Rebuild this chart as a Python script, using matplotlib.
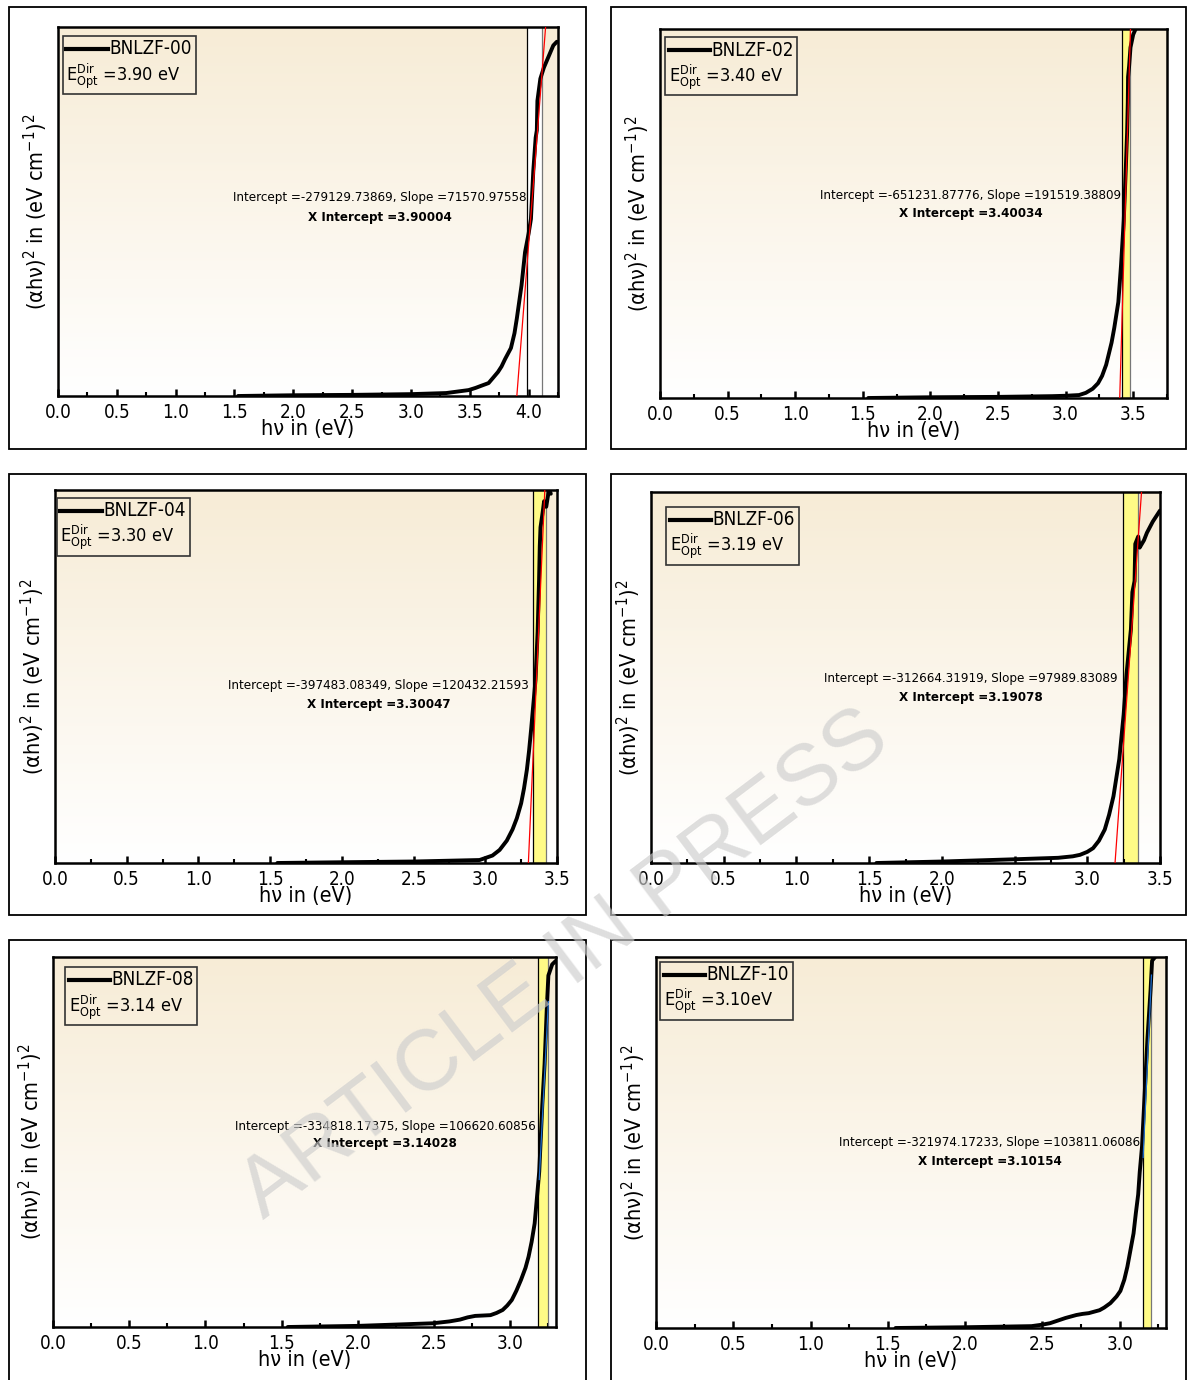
import matplotlib
matplotlib.use('Agg')
from matplotlib import pyplot as plt
from matplotlib.patches import Rectangle
from matplotlib.lines import Line2D
from matplotlib.colors import LinearSegmentedColormap
from matplotlib.offsetbox import AnchoredOffsetbox, DrawingArea, HPacker, VPacker, TextArea
from matplotlib.ticker import MultipleLocator
import numpy as np

plt.rcParams['font.family'] = ['DejaVu Sans']
plt.rcParams['font.stretch'] = 'condensed'
plt.rcParams['mathtext.fontset'] = 'dejavusans'

samples = ['BNLZF-00', 'BNLZF-02', 'BNLZF-04', 'BNLZF-06', 'BNLZF-08', 'BNLZF-10']
gap_labels = ['3.90 eV', '3.40 eV', '3.30 eV', '3.19 eV', '3.14 eV', '3.10eV']
intercepts = [-279129.73869, -651231.87776, -397483.08349, -312664.31919, -334818.17375, -321974.17233]
slopes = [71570.97558, 191519.38809, 120432.21593, 97989.83089, 106620.60856, 103811.06086]

# photon energy (eV) and (alpha h nu)^2 for each sample
e00 = [1.53, 2.0, 2.5, 3.0, 3.3, 3.49, 3.55, 3.60, 3.66, 3.70, 3.74, 3.77, 3.80, 3.85, 3.88,
       3.90, 3.94, 3.97, 4.00, 4.02, 4.04, 4.06, 4.07, 4.075, 4.10, 4.13, 4.17, 4.21, 4.24]
a00 = [0, 35, 53, 88, 140, 280, 385, 490, 613, 875, 1140, 1400, 1750, 2275, 2975,
       3675, 5250, 6825, 7700, 8400, 10675, 12250, 12600, 14000, 15050, 15575, 16100, 16625, 16800]
e02 = [1.54, 2.0, 2.5, 2.9, 3.0, 3.10, 3.15, 3.20, 3.24, 3.27, 3.30, 3.32, 3.34, 3.36, 3.39,
       3.41, 3.43, 3.445, 3.455, 3.46, 3.462, 3.47, 3.48, 3.50, 3.53]
a02 = [0, 30, 46, 76, 92, 122, 214, 381, 610, 915, 1373, 1830, 2288, 2898, 3965,
       5490, 7320, 9455, 10980, 12200, 13268, 13725, 14488, 15021, 15403]
e04 = [1.55, 2.0, 2.5, 2.96, 3.05, 3.10, 3.15, 3.19, 3.22, 3.25, 3.27, 3.29, 3.305, 3.32,
       3.35, 3.365, 3.375, 3.38, 3.385, 3.40, 3.41, 3.425, 3.435, 3.445, 3.457]
a04 = [0, 28, 55, 110, 276, 483, 828, 1242, 1656, 2208, 2760, 3450, 4140, 4968,
       6762, 8556, 10488, 11730, 12420, 12972, 13386, 13179, 13524, 13800, 13662]
e06 = [1.55, 2.0, 2.5, 2.8, 2.9, 2.95, 3.0, 3.04, 3.08, 3.12, 3.15, 3.18, 3.20, 3.22, 3.25,
       3.27, 3.30, 3.31, 3.325, 3.33, 3.35, 3.36, 3.375, 3.39, 3.41, 3.45, 3.50]
a06 = [0, 71, 179, 250, 321, 393, 536, 714, 1071, 1607, 2321, 3213, 4106, 4998, 7140,
       9104, 11246, 13031, 13566, 15351, 15708, 15173, 15351, 15530, 15887, 16422, 16958]
e08 = [1.54, 2.0, 2.49, 2.60, 2.67, 2.72, 2.77, 2.82, 2.87, 2.91, 2.95, 2.98, 3.01, 3.04,
       3.07, 3.10, 3.12, 3.14, 3.16, 3.19, 3.21, 3.225, 3.24, 3.25, 3.275, 3.30]
a08 = [0, 40, 133, 200, 266, 346, 399, 412, 426, 505, 612, 771, 971, 1303,
       1689, 2128, 2527, 3059, 3724, 5586, 7980, 9443, 11505, 12635, 13034, 13167]
e10 = [1.55, 2.0, 2.43, 2.50, 2.55, 2.60, 2.65, 2.72, 2.76, 2.80, 2.87, 2.90, 2.94, 2.98,
       3.005, 3.03, 3.05, 3.07, 3.09, 3.105, 3.12, 3.13, 3.145, 3.163, 3.18, 3.20, 3.21,
       3.23, 3.24]
a10 = [0, 23, 57, 103, 148, 228, 308, 399, 433, 456, 547, 627, 764, 969,
       1140, 1482, 1881, 2394, 2907, 3534, 4104, 4788, 5586, 7296, 8892, 10374, 11286,
       11400, 11628]

energies = [e00, e02, e04, e06, e08, e10]
absorb = [a00, a02, a04, a06, a08, a10]

# linear-fit windows and the x span drawn for each fit line
windows = [(3.99, 4.11), (3.42, 3.475), (3.33, 3.42), (3.244, 3.352), (3.185, 3.245), (3.15, 3.20)]
fit_spans = [(3.90, 4.25), (3.40, 3.75), (3.30, 3.5), (3.19, 3.5), (3.19, 3.25), (3.152, 3.206)]
x_max = [4.25, 3.75, 3.5, 3.5, 3.3, 3.3]
y_max = [17500, 15250, 13800, 17850, 13300, 11400]

W, H = 1188, 1380
# pixel boxes: axes (x0, y0, x1, y1) and outer frames
ax_boxes = [(58, 27, 558, 396), (660, 29, 1167, 398),
            (55, 490, 557, 863), (651, 492, 1160, 863),
            (53, 957, 556, 1327), (656, 957, 1166, 1328)]
frames = [(9, 7, 586, 449), (611, 7, 1186, 449),
          (9, 474, 586, 915), (611, 474, 1186, 915),
          (9, 940, 586, 1400), (611, 940, 1186, 1400)]
note_pos = [(0.644, 0.539, 0.485), (0.613, 0.550, 0.499), (0.645, 0.475, 0.426),
            (0.629, 0.496, 0.447), (0.660, 0.543, 0.495), (0.655, 0.501, 0.450)]
key_pos = [(0.010, 0.976), (0.010, 0.978), (0.004, 0.979),
           (0.030, 0.960), (0.024, 0.973), (0.008, 0.987)]
band_colors = ['white', '#fffb86', '#fffb86', '#fffb86', '#fffb86', '#fffb86']
fit_colors = ['red', 'red', 'red', 'red', '#1f6fd0', '#1f6fd0']

bg_cmap = LinearSegmentedColormap.from_list('bg', ['white', '#f7ecd6'])
grad = np.linspace(0, 1, 256).reshape(-1, 1)


def add_key(ax, name, gap, anchor):
    da = DrawingArea(30, 10, 0, 0)
    da.add_artist(Line2D([0, 30], [5, 5], color='black', lw=3))
    row1 = HPacker(children=[da, TextArea(name, textprops=dict(size=13.5))],
                   align='center', pad=0, sep=1)
    row2 = TextArea(r'E$^{\mathrm{Dir}}_{\mathrm{Opt}}$ =' + gap, textprops=dict(size=13))
    box = VPacker(children=[row1, row2], align='left', pad=0, sep=2)
    ab = AnchoredOffsetbox(loc='upper left', child=box, pad=0.25, borderpad=0,
                           frameon=True, bbox_to_anchor=anchor,
                           bbox_transform=ax.transAxes)
    ab.patch.set_edgecolor('#333333')
    ab.patch.set_facecolor('none')
    ab.patch.set_linewidth(1.2)
    ax.add_artist(ab)


def main():
    fig = plt.figure(figsize=(W / 100, H / 100), dpi=100)

    for (x0, y0, x1, y1) in frames:
        fig.add_artist(Rectangle((x0 / W, 1 - y1 / H), (x1 - x0) / W, (y1 - y0) / H,
                                 transform=fig.transFigure, fill=False, lw=1.3, ec='black'))

    for i in range(6):
        x0, y0, x1, y1 = ax_boxes[i]
        ax = fig.add_axes([x0 / W, 1 - y1 / H, (x1 - x0) / W, (y1 - y0) / H])
        ax.imshow(grad, extent=(0, 1, 0, 1), transform=ax.transAxes, origin='lower',
                  aspect='auto', cmap=bg_cmap, zorder=0)

        lo, hi = windows[i]
        ax.axvspan(lo, hi, color=band_colors[i], zorder=1, lw=0)
        ax.axvline(lo, color='black', lw=0.9, zorder=2)
        ax.axvline(hi, color='#777777', lw=0.9, zorder=2)

        ax.plot(energies[i], absorb[i], color='black', lw=2.8, zorder=3,
                solid_joinstyle='round', solid_capstyle='round')

        xf = np.array(fit_spans[i])
        ax.plot(xf, slopes[i] * xf + intercepts[i], color=fit_colors[i], lw=0.9, zorder=4)

        nx, ny1, ny2 = note_pos[i]
        ax.text(nx, ny1, 'Intercept =%.5f, Slope =%.5f' % (intercepts[i], slopes[i]),
                transform=ax.transAxes, ha='center', va='center', size=9.5, zorder=5)
        ax.text(nx, ny2, 'X Intercept =%.5f' % (-intercepts[i] / slopes[i]),
                transform=ax.transAxes, ha='center', va='center', size=9.5,
                weight='bold', zorder=5)

        add_key(ax, samples[i], gap_labels[i], key_pos[i])

        ax.set_xlim(0, x_max[i])
        ax.set_ylim(0, y_max[i])
        ax.set_xticks(np.arange(0, x_max[i] + 0.01, 0.5))
        ax.xaxis.set_minor_locator(MultipleLocator(0.25))
        ax.set_yticks([])
        ax.tick_params(axis='x', which='major', direction='in', length=5, width=1.8,
                       labelsize=13.5, pad=5)
        ax.tick_params(axis='x', which='minor', direction='in', length=3, width=1.5)
        for sp in ax.spines.values():
            sp.set_linewidth(1.8)
        ax.set_xlabel('hν in (eV)', size=15.5, labelpad=-2)
        ax.set_ylabel('(αhν)$^2$ in (eV cm$^{-1}$)$^2$', size=15.5, labelpad=6)

    fig.text(565 / W, 1 - 965 / H, 'ARTICLE IN PRESS', rotation=37, fontsize=62,
             family='Liberation Sans', stretch='normal', color='#cdcdcd', alpha=0.65,
             ha='center', va='center', rotation_mode='anchor', zorder=100)

    plt.savefig('out.png', dpi=100)


if __name__ == '__main__':
    main()
